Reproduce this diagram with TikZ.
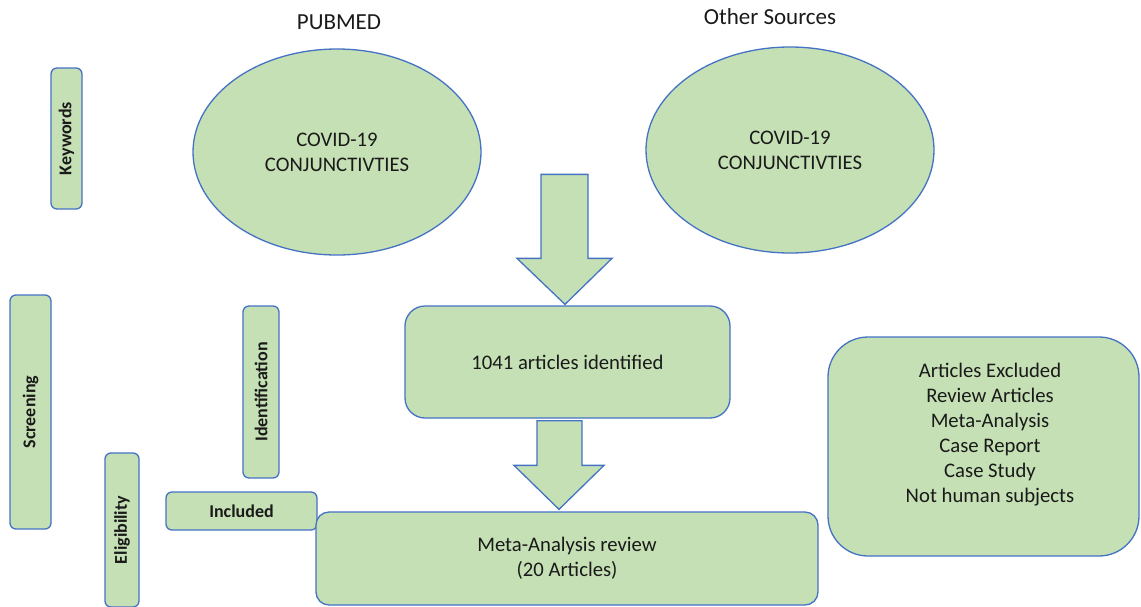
\documentclass[tikz,border=0pt]{standalone}
\usepackage{fontspec}
\setmainfont{Carlito}
\usetikzlibrary{calc,shapes.geometric}
\definecolor{boxfill}{HTML}{C5E0B4}
\definecolor{boxline}{HTML}{4472C4}
\definecolor{ink}{HTML}{1A1A1A}

\begin{document}
\begin{tikzpicture}[x=1pt,y=-1pt,
  shapebase/.style={draw=boxline, fill=boxfill, line width=1.3pt, text=ink, inner sep=0pt},
  oval/.style={shapebase, ellipse, minimum width=288pt, minimum height=206pt,
    font=\fontsize{20.7}{25}\selectfont, align=center},
  stagebox/.style={shapebase, rectangle, rounded corners=6pt,
    font=\bfseries\fontsize{18}{22}\selectfont},
  vstage/.style={stagebox, rotate=90},
  panel/.style={shapebase, rectangle, font=\fontsize{20.7}{25}\selectfont, align=center},
  bodytext/.style={text=ink, inner sep=0pt, font=\fontsize{20.7}{25}\selectfont, align=center},
  heading/.style={text=ink, inner sep=0pt, font=\fontsize{23}{28}\selectfont},
  blockarrow/.style={draw=boxline, fill=boxfill, line width=1.3pt, line join=miter}
]
\useasboundingbox (0,0) rectangle (1141,606);
\clip (0,0) rectangle (1141,606);

% source headings
\node[heading] (pubmed) at (339,22) {PUBMED};
\node[heading] (other) at (770,17) {Other Sources};

% search terms per source
\node[oval] (srcA) at (337,152) {COVID-19\\CONJUNCTIVTIES};
\node[oval] (srcB) at (790,150) {COVID-19\\CONJUNCTIVTIES};

% stage labels
\node[vstage, minimum width=141pt, minimum height=31pt] (kw) at (66.5,138.5) {Keywords};
\node[vstage, minimum width=234pt, minimum height=41pt] (scr) at (30.5,412) {Screening};
\node[vstage, minimum width=172pt, minimum height=36pt] (idf) at (261,392) {Identification};
\node[vstage, minimum width=154pt, minimum height=34pt] (elig) at (122,530) {Eligibility};
\node[stagebox, minimum width=151pt, minimum height=38pt] (incl) at (241.5,511) {Included};

% flow boxes
\node[panel, rounded corners=20pt, minimum width=325pt, minimum height=112pt]
  (found) at (567.5,362) {1041 articles identified};
\node[panel, rounded corners=13pt, minimum width=502pt, minimum height=93pt]
  (meta) at (567,558.5) {Meta-Analysis review\\(20 Articles)};
\node[panel, rounded corners=40pt, minimum width=311pt, minimum height=219pt]
  (excl) at (983.5,446.5) {};
\node[bodytext] (excllist) at (990,435)
  {Articles Excluded\\Review Articles\\Meta-Analysis\\Case Report\\Case Study\\Not human subjects};

% block arrows
\coordinate (tipA) at ($(found.north)+(-2.5,-1)$);
\path[blockarrow] ($(tipA)+(-24,-130)$) -- ($(tipA)+(23,-130)$) -- ($(tipA)+(23,-46)$)
  -- ($(tipA)+(47,-46)$) -- (tipA) -- ($(tipA)+(-48,-46)$) -- ($(tipA)+(-24,-46)$) -- cycle;

\coordinate (tipB) at ($(meta.north)+(-8,-2)$);
\coordinate (tailB) at ($(found.south)+(0,2)$);
\path[blockarrow] (tipB |- tailB) ++(-22,0) -- ++(45,0) -- ($(tipB)+(23,-44)$)
  -- ($(tipB)+(45,-44)$) -- (tipB) -- ($(tipB)+(-45,-44)$) -- ($(tipB)+(-22,-44)$) -- cycle;
\end{tikzpicture}
\end{document}
